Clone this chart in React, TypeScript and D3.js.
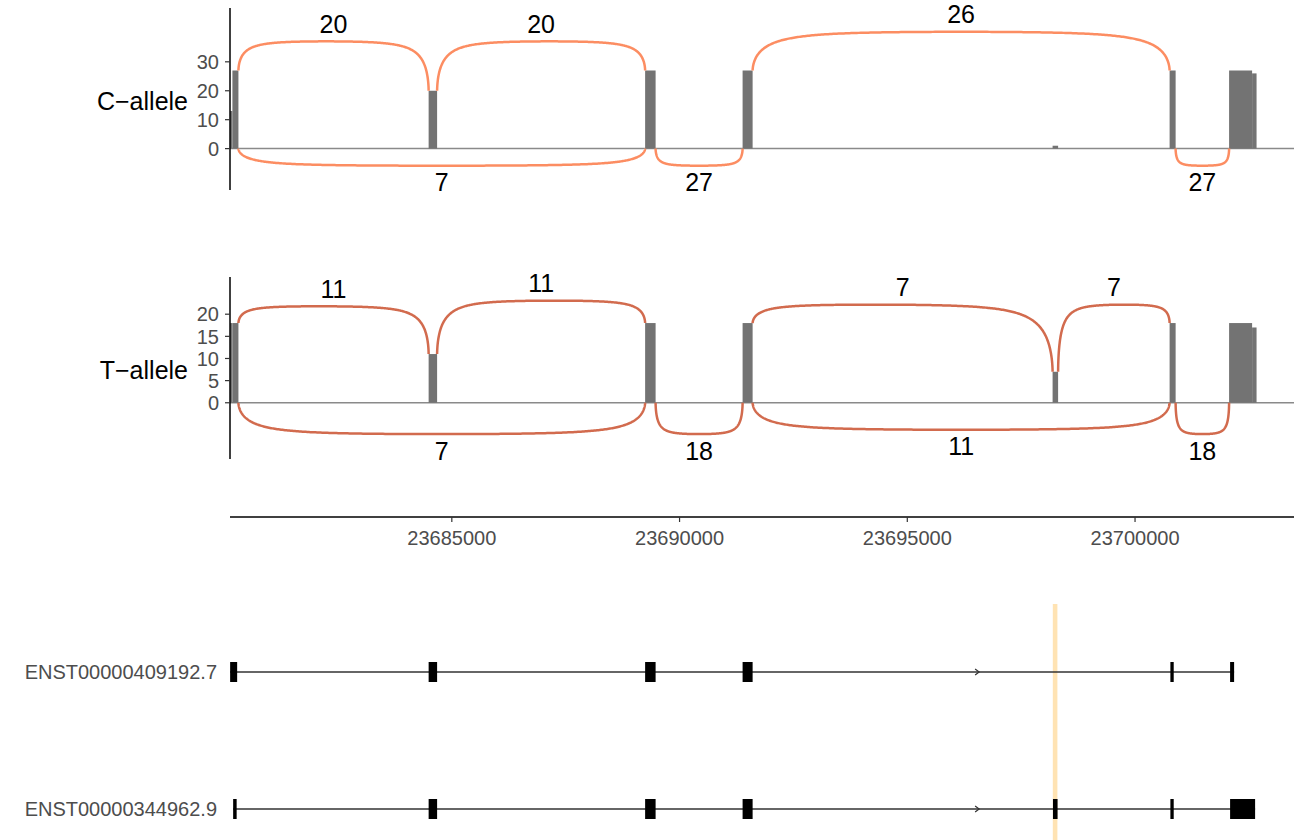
import React from 'react'
import * as d3 from 'd3'

const W = 1294
const H = 840

// exonic coverage blocks (genomic coords) and read depth per allele
const covStart = [23680133, 23680183, 23684491, 23689244, 23691384, 23698190, 23700759, 23702065, 23702570]
const covEnd = [23680183, 23680315, 23684677, 23689474, 23691604, 23698311, 23700891, 23702570, 23702668]
const covC = [13, 27, 20, 27, 27, 1, 27, 27, 26]
const covT = [18, 18, 11, 18, 18, 7, 18, 18, 17]

// junctions: donor, acceptor, read count, arc apex (negative = drawn below)
const juncStartC = [23680315, 23684677, 23691604, 23680315, 23689474, 23700891]
const juncEndC = [23684491, 23689244, 23700759, 23689244, 23691384, 23702065]
const juncCountC = [20, 20, 26, 7, 27, 27]
const juncApexC = [37.3, 37.3, 40.6, -6, -6, -6]

const juncStartT = [23680315, 23684677, 23691604, 23698311, 23680315, 23689474, 23691604, 23700891]
const juncEndT = [23684491, 23689244, 23698190, 23700759, 23689244, 23691384, 23700759, 23702065]
const juncCountT = [11, 11, 7, 7, 7, 18, 11, 18]
const juncApexT = [21.9, 23.2, 22.3, 22.3, -7.2, -7.2, -6.2, -7.2]

// transcripts
const txNames = ['ENST00000409192.7', 'ENST00000344962.9']
const tx1Start = [23680133, 23684491, 23689244, 23691384, 23700776, 23702087]
const tx1End = [23680287, 23684677, 23689474, 23691604, 23700849, 23702175]
const tx2Start = [23680199, 23684491, 23689244, 23691384, 23698198, 23700776, 23702087]
const tx2End = [23680276, 23684677, 23689474, 23691604, 23698299, 23700849, 23702636]
const arrowPos = 23696555
const highlightPos = 23698245

const xTicks = [23685000, 23690000, 23695000, 23700000]
const yTicksC = [0, 10, 20, 30]
const yTicksT = [0, 5, 10, 15, 20]

const font = "'Liberation Sans', Arial, Helvetica, sans-serif"

const x = d3.scaleLinear().domain([23680130, 23703490]).range([230, 1294])

// rise/fall profile of a junction arc
const G = (s: number) => Math.exp(-Math.pow(Math.max(s, 0) / 0.037, 0.6))

function arcPath(x1: number, x2: number, y1: number, y2: number, ya: number) {
  const L = x2 - x1
  const N = 300
  const pts: [number, number][] = d3.range(N + 1).map(i => {
    const s = (1 - Math.cos(Math.PI * i / N)) / 2
    const px = x1 + L * s
    const py = ya + (y1 - ya) * G(s) + (y2 - ya) * G(1 - s)
    return [px, py]
  })
  return d3.line()(pts) || ''
}

function covAt(cov: number[], pos: number) {
  for (let i = 0; i < covStart.length; i++) {
    if (pos >= covStart[i] && pos < covEnd[i]) return cov[i]
  }
  return 0
}

type PanelProps = {
  label: string
  cov: number[]
  js: number[]
  je: number[]
  jc: number[]
  ja: number[]
  ticks: number[]
  domain: [number, number]
  range: [number, number]
  color: string
}

function Panel({ label, cov, js, je, jc, ja, ticks, domain, range, color }: PanelProps) {
  const y = d3.scaleLinear().domain(domain).range(range)
  const y0 = y(0)
  return (
    <g>
      <line x1={230} x2={W} y1={y0} y2={y0} stroke="#8a8a8a" strokeWidth={1.5} />
      {cov.map((v, i) => (
        <rect key={i} x={x(covStart[i])} width={x(covEnd[i]) - x(covStart[i])}
          y={y(v)} height={y0 - y(v)} fill="#737373" />
      ))}
      {js.map((s, i) => {
        const above = ja[i] > 0
        const y1 = above ? y(covAt(cov, s - 1)) : y0
        const y2 = above ? y(covAt(cov, je[i] + 1)) : y0
        const ya = y(ja[i])
        const mid = (x(s) + x(je[i])) / 2
        return (
          <g key={i}>
            <path d={arcPath(x(s), x(je[i]), y1, y2, ya)} fill="none" stroke={color} strokeWidth={2.5} />
            <text x={mid} y={above ? ya - 8 : ya + 25} textAnchor="middle"
              fontSize={25} fontFamily={font} fill="#000">{jc[i]}</text>
          </g>
        )
      })}
      <line x1={230} x2={230} y1={range[1]} y2={range[0]} stroke="#000" strokeWidth={1.5} />
      {ticks.map(t => (
        <g key={t}>
          <line x1={225} x2={230} y1={y(t)} y2={y(t)} stroke="#333" strokeWidth={1.2} />
          <text x={219} y={y(t)} dy="0.36em" textAnchor="end" fontSize={20}
            fontFamily={font} fill="#4d4d4d">{t}</text>
        </g>
      ))}
      <text x={188} y={(range[0] + range[1]) / 2 + 11} textAnchor="end" fontSize={25}
        fontFamily={font} fill="#000">{label}</text>
    </g>
  )
}

function Transcript({ name, starts, ends, cy }: { name: string, starts: number[], ends: number[], cy: number }) {
  const ax = x(arrowPos)
  return (
    <g>
      <text x={217} y={cy} dy="0.36em" textAnchor="end" fontSize={20} fontFamily={font} fill="#4d4d4d">{name}</text>
      <line x1={x(starts[0])} x2={x(ends[ends.length - 1])} y1={cy} y2={cy} stroke="#333" strokeWidth={1.3} />
      <path d={`M${ax - 3},${cy - 3}L${ax + 1},${cy}L${ax - 3},${cy + 3}`} fill="none" stroke="#333" strokeWidth={1.2} />
      {starts.map((s, i) => (
        <rect key={i} x={x(s)} width={Math.max(x(ends[i]) - x(s), 3)} y={cy - 10} height={20} fill="#000" />
      ))}
    </g>
  )
}

export default function App() {
  return (
    <svg width={W} height={H} style={{ position: 'absolute', left: 0, top: 0, background: '#fff' }}>
      <Panel label="C−allele" cov={covC} js={juncStartC} je={juncEndC} jc={juncCountC} ja={juncApexC}
        ticks={yTicksC} domain={[-14.3, 48.6]} range={[190, 8]} color="#FC8D62" />
      <Panel label="T−allele" cov={covT} js={juncStartT} je={juncEndT} jc={juncCountT} ja={juncApexT}
        ticks={yTicksT} domain={[-12.7, 28.4]} range={[459, 277]} color="#D26B4E" />

      <line x1={230} x2={W} y1={517} y2={517} stroke="#000" strokeWidth={1.5} />
      {xTicks.map(t => (
        <g key={t}>
          <line x1={x(t)} x2={x(t)} y1={517} y2={522} stroke="#333" strokeWidth={1.2} />
          <text x={x(t)} y={538} dy="0.36em" textAnchor="middle" fontSize={20}
            fontFamily={font} fill="#4d4d4d">{t}</text>
        </g>
      ))}

      <rect x={x(highlightPos) - 2.3} width={4.6} y={604} height={H - 604} fill="#FFE3B3" />
      <Transcript name={txNames[0]} starts={tx1Start} ends={tx1End} cy={672} />
      <Transcript name={txNames[1]} starts={tx2Start} ends={tx2End} cy={809} />
    </svg>
  )
}
